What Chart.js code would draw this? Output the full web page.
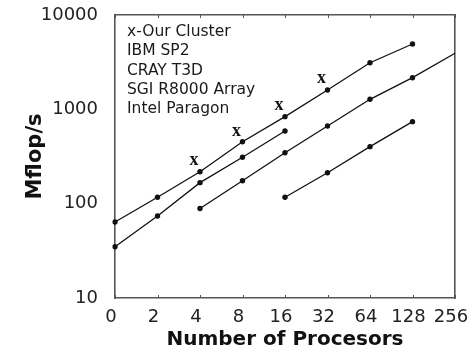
<!DOCTYPE html>
<html>
<head>
<meta charset="utf-8">
<script src="https://cdn.jsdelivr.net/npm/chart.js@4"></script>
<style>
  body { margin: 0; background: #fff; }
  canvas { display: block; }
</style>
</head>
<body>
<canvas id="perfChart" width="470" height="357"></canvas>
<script>
// Mflop/s versus number of processors, log scale

const procLabels = ['0', '2', '4', '8', '16', '32', '64', '128', '256'];
const yTicks = [10, 100, 1000, 10000];

const legendNames = ['x-Our Cluster', 'IBM SP2', 'CRAY T3D', 'SGI R8000 Array', 'Intel Paragon'];

const ourCluster   = [null, null, 290, 590, 1114, 2150, null, null, null];
const ibmSP2       = [64, 117, 218, 454, 836, 1603, 3120, 4930, null];
const crayT3D      = [35, 74, 167, 310, 589, null, null, null, null];
const sgiR8000     = [null, null, 89, 175, 347, 666, 1277, 2165, 3930];
const intelParagon = [null, null, null, null, 117, 213, 402, 740, null];

const axisColor = '#555';

function lineSet(label, data, radius) {
  return {
    label: label,
    data: data,
    borderColor: '#111',
    backgroundColor: '#111',
    borderWidth: 1.3,
    pointRadius: radius === undefined ? 2.7 : radius,
    pointHoverRadius: 0,
    pointBorderWidth: 0,
    spanGaps: false,
    tension: 0
  };
}

// 'x' glyphs for our cluster, legend text and the small inward ticks
const decorPlugin = {
  id: 'decor',
  afterDatasetsDraw(chart) {
    const ctx = chart.ctx;
    const area = chart.chartArea;
    const xs = chart.scales.x;

    // inward ticks on top and bottom edges
    ctx.save();
    ctx.strokeStyle = axisColor;
    ctx.lineWidth = 1;
    procLabels.forEach((_, i) => {
      const px = Math.round(xs.getPixelForValue(i)) + 0.5;
      ctx.beginPath();
      ctx.moveTo(px, area.bottom);
      ctx.lineTo(px, area.bottom - 3);
      ctx.moveTo(px, area.top);
      ctx.lineTo(px, area.top + 3);
      ctx.stroke();
    });
    ctx.restore();

    // cluster marks
    const meta = chart.getDatasetMeta(0);
    ctx.save();
    ctx.fillStyle = '#111';
    ctx.font = 'bold 18px "Liberation Serif"';
    ctx.textAlign = 'center';
    ctx.textBaseline = 'middle';
    meta.data.forEach((pt, i) => {
      if (ourCluster[i] == null) return;
      ctx.fillText('x', pt.x - 6, pt.y);
    });
    ctx.restore();

    // legend block in the top left corner
    ctx.save();
    ctx.fillStyle = '#1a1a1a';
    ctx.font = '15.5px "DejaVu Sans"';
    ctx.textAlign = 'left';
    ctx.textBaseline = 'middle';
    legendNames.forEach((name, i) => {
      ctx.fillText(name, area.left + 12, area.top + 17 + i * 19.25);
    });
    ctx.restore();
  }
};

const ctx = document.getElementById('perfChart').getContext('2d');

new Chart(ctx, {
  type: 'line',
  data: {
    labels: procLabels,
    datasets: [
      Object.assign(lineSet(legendNames[0], ourCluster, 0), { showLine: false }),
      lineSet(legendNames[1], ibmSP2),
      lineSet(legendNames[2], crayT3D),
      lineSet(legendNames[3], sgiR8000, sgiR8000.map((v, i) => i === 8 ? 0 : 2.7)),
      lineSet(legendNames[4], intelParagon)
    ]
  },
  options: {
    responsive: false,
    animation: false,
    devicePixelRatio: 1,
    layout: { padding: { left: 0, top: 15, right: 15, bottom: 0 } },
    plugins: {
      legend: { display: false },
      tooltip: { enabled: false }
    },
    scales: {
      x: {
        type: 'category',
        offset: false,
        grid: { display: false },
        border: { display: true, color: axisColor, width: 1.6 },
        ticks: {
          color: '#222',
          font: { family: 'DejaVu Sans', size: 18 },
          padding: 1,
          labelOffset: -4,
          maxRotation: 0,
          autoSkip: false
        },
        title: {
          display: true,
          text: 'Number of Procesors',
          color: '#111',
          font: { family: 'DejaVu Sans', size: 20, weight: 'bold' },
          padding: { top: 0, bottom: 5 }
        },
        afterFit(scale) {
          scale.height = 59;
          scale.paddingLeft = 0;
          scale.paddingRight = 0;
        }
      },
      x2: {
        type: 'category',
        position: 'top',
        offset: false,
        grid: { display: false },
        border: { display: true, color: axisColor, width: 1.6 },
        ticks: { display: false },
        afterFit(scale) {
          scale.height = 0;
          scale.paddingLeft = 0;
          scale.paddingRight = 0;
        }
      },
      y: {
        type: 'logarithmic',
        min: 10,
        max: 10000,
        grid: { display: false },
        border: { display: true, color: axisColor, width: 1.6 },
        afterBuildTicks(scale) {
          scale.ticks = yTicks.map(v => ({ value: v }));
        },
        ticks: {
          color: '#222',
          font: { family: 'DejaVu Sans', size: 18 },
          padding: 9,
          callback: v => String(v)
        },
        title: {
          display: true,
          text: 'Mflop/s',
          color: '#111',
          font: { family: 'DejaVu Sans', size: 21, weight: 'bold' },
          padding: { top: 23, bottom: 0 }
        },
        afterFit(scale) {
          scale.width = 115;
          scale.paddingTop = 0;
          scale.paddingBottom = 0;
        }
      },
      y2: {
        type: 'linear',
        position: 'right',
        min: 0,
        max: 1,
        grid: { display: false },
        border: { display: true, color: axisColor, width: 1.6 },
        ticks: { display: false },
        afterFit(scale) {
          scale.width = 0;
          scale.paddingTop = 0;
          scale.paddingBottom = 0;
        }
      }
    }
  },
  plugins: [decorPlugin]
});
</script>
</body>
</html>
